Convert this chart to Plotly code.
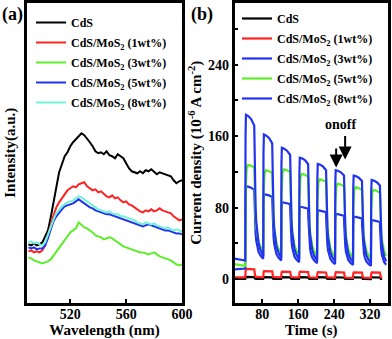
import plotly.graph_objects as go

# ---------------- Panel (a): PL spectra ----------------
wavelength = list(range(490, 601, 2))
pl_cds = [58, 57, 59, 57, 58, 60, 66, 72, 85, 100, 118, 130, 138, 146, 150, 156, 160, 163, 166, 169,
          167, 164, 160, 156, 151, 149, 150, 148, 151, 147, 146, 144, 148, 146, 144, 139, 134, 131, 130, 129,
          131, 129, 132, 131, 133, 130, 128, 130, 129, 128, 127, 126, 122, 119, 121, 122]
pl_1wt = [51, 52, 50, 51, 50, 52, 57, 66, 77, 87, 95, 100, 104, 109, 112, 114, 116, 115, 118, 119,
          120, 116, 114, 112, 113, 110, 111, 108, 106, 105, 107, 104, 105, 102, 100, 101, 98, 97, 95, 93,
          91, 90, 92, 91, 93, 91, 92, 94, 92, 91, 90, 89, 86, 84, 82, 83]
pl_3wt = [45, 44, 42, 41, 40, 39, 40, 41, 43, 47, 51, 55, 59, 62, 66, 70, 72, 74, 80, 77,
          75, 74, 72, 70, 67, 66, 65, 63, 64, 65, 64, 62, 60, 58, 56, 55, 54, 53, 52, 51,
          50, 50, 49, 48, 49, 50, 48, 46, 45, 44, 43, 42, 40, 38, 37, 38]
pl_5wt = [55, 54, 55, 53, 54, 54, 57, 64, 73, 81, 86, 90, 93, 96, 97, 98, 99, 101, 103, 101,
          99, 97, 95, 94, 92, 91, 90, 89, 88, 88, 87, 86, 85, 84, 83, 82, 81, 80, 79, 78,
          77, 76, 77, 78, 77, 76, 75, 74, 73, 72, 72, 71, 70, 69, 69, 68]
pl_8wt = [60, 61, 59, 60, 58, 57, 60, 68, 76, 83, 89, 93, 96, 98, 100, 101, 102, 104, 106, 105,
          103, 101, 99, 97, 95, 93, 92, 91, 90, 91, 89, 88, 88, 86, 86, 85, 84, 83, 82, 80,
          79, 78, 80, 79, 78, 79, 77, 76, 75, 74, 75, 73, 72, 73, 72, 71]

# ---------------- Panel (b): photocurrent ----------------
t_on = [42, 82, 122, 162, 202, 242, 282, 322]
ON_LEN = 20
T_START, T_END = 18, 360

cds_base = [0.5, 0.4]
cds_peak = [2.6, 2.4, 2.4, 2.3, 2.3, 2.2, 2.2, 2.2]
cds_end = [2.4, 2.2, 2.2, 2.1, 2.1, 2.0, 2.0, 2.0]
cds_trough = [0.4, 0.4, 0.3, 0.3, 0.3, 0.3, 0.2, 0.2]

w1_base = [2.2, 2.0]
w1_peak = [11.5, 9.2, 8.6, 8.4, 8.0, 8.0, 7.8, 7.8]
w1_end = [11.0, 8.8, 8.2, 8.0, 7.6, 7.6, 7.4, 7.4]
w1_trough = [2.2, 2.0, 2.0, 1.8, 1.8, 1.6, 1.6, 1.5]

w3_base = [11, 12]
w3_peak = [104, 95, 86, 81, 77, 73, 70, 66]
w3_end = [100, 92, 84, 79, 75, 71, 68, 64]
w3_trough = [23, 21, 19, 18, 17, 16, 15, 14]

w5_base = [17, 15]
w5_peak = [128, 122, 123, 118, 112, 107, 103, 100]
w5_end = [125, 119, 120, 115, 109, 104, 100, 97]
w5_trough = [31, 29, 27, 26, 25, 24, 23, 22]

w8_base = [23, 21]
w8_peak = [184, 162, 147, 136, 129, 122, 116, 111]
w8_end = [172, 152, 139, 129, 122, 116, 110, 105]
w8_trough = [26, 24, 22, 21, 20, 19, 18, 16]

# pulse shape read from first pulse (time offsets in s, fraction of step)
fast_rise_dt, fast_rise_fr = [0, 0.6, 1.5], [0, 0.85, 1.0]
fast_sag_dt, fast_sag_fr = [6, 13, 20], [0.1, 0.4, 1.0]
slow_rise_dt, slow_rise_fr = [0, 0.6, 1.5, 3, 6], [0, 0.7, 0.88, 0.96, 1.0]
slow_sag_dt, slow_sag_fr = [12, 20], [0.3, 1.0]
decay_dt = [0.5, 1, 2, 3, 4.5, 6.5, 9.5, 14, 19.5]
decay_fr_blue = [0.82, 0.7, 0.5, 0.37, 0.26, 0.17, 0.1, 0.045, 0.0]
decay_fr_green = [0.85, 0.74, 0.55, 0.42, 0.3, 0.2, 0.12, 0.055, 0.0]
sq_rise_dt, sq_rise_fr = [0, 0.8, 2], [0, 0.8, 1.0]
sq_sag_dt, sq_sag_fr = [20], [1.0]
sq_decay_dt, sq_decay_fr = [0.8, 2, 5, 19.5], [0.3, 0.12, 0.04, 0.0]


def pulse_series(base, peaks, ends, troughs, rdt, rfr, sdt, sfr, ddt, dfr):
    t, y = [T_START, t_on[0]], [base[0], base[1]]
    prev = base[1]
    for k, ton in enumerate(t_on):
        for dt, f in zip(rdt, rfr):
            t.append(ton + dt)
            y.append(prev + f * (peaks[k] - prev))
        for dt, f in zip(sdt, sfr):
            t.append(ton + dt)
            y.append(peaks[k] + f * (ends[k] - peaks[k]))
        toff = ton + ON_LEN
        for dt, f in zip(ddt, dfr):
            if toff + dt > T_END:
                break
            t.append(toff + dt)
            y.append(troughs[k] + f * (ends[k] - troughs[k]))
        prev = troughs[k]
    return t, y


FONT = "Liberation Serif"
BLACK, RED, GREEN, BLUE, CYAN = "#000000", "#ff2222", "#5cee2a", "#2233ee", "#72f2d8"
labels = ["CdS", "CdS/MoS<sub>2</sub> (1wt%)", "CdS/MoS<sub>2</sub> (3wt%)",
          "CdS/MoS<sub>2</sub> (5wt%)", "CdS/MoS<sub>2</sub> (8wt%)"]

fig = go.Figure()
for i, (vals, col) in enumerate(zip([pl_cds, pl_1wt, pl_3wt, pl_5wt, pl_8wt],
                                    [BLACK, RED, GREEN, BLUE, CYAN])):
    fig.add_trace(go.Scatter(x=wavelength, y=vals, mode="lines", name=labels[i],
                             line=dict(color=col, width=2), xaxis="x", yaxis="y",
                             legend="legend", legendgroup="a%d" % i))

series_b = [
    (cds_base, cds_peak, cds_end, cds_trough, sq_rise_dt, sq_rise_fr, sq_sag_dt, sq_sag_fr, sq_decay_dt, sq_decay_fr, BLACK),
    (w1_base, w1_peak, w1_end, w1_trough, sq_rise_dt, sq_rise_fr, sq_sag_dt, sq_sag_fr, sq_decay_dt, sq_decay_fr, RED),
    (w3_base, w3_peak, w3_end, w3_trough, fast_rise_dt, fast_rise_fr, fast_sag_dt, fast_sag_fr, decay_dt, decay_fr_blue, BLUE),
    (w5_base, w5_peak, w5_end, w5_trough, slow_rise_dt, slow_rise_fr, slow_sag_dt, slow_sag_fr, decay_dt, decay_fr_green, GREEN),
    (w8_base, w8_peak, w8_end, w8_trough, fast_rise_dt, fast_rise_fr, fast_sag_dt, fast_sag_fr, decay_dt, decay_fr_blue, BLUE),
]
for i, s in enumerate(series_b):
    tt, yy = pulse_series(*s[:10])
    fig.add_trace(go.Scatter(x=tt, y=yy, mode="lines", name=labels[i],
                             line=dict(color=s[10], width=2.2), xaxis="x2", yaxis="y2",
                             legend="legend2", legendgroup="b%d" % i))

W, H = 392, 339
ydom = [1 - 302.5 / H, 1 - 3 / H]
axis_common = dict(showline=True, linewidth=2.5, linecolor="black", mirror=True,
                   ticklen=4, tickwidth=2, tickcolor="black",
                   showgrid=False, zeroline=False,
                   tickfont=dict(family=FONT, size=14, color="black", weight="bold"))
title_font = dict(family=FONT, size=15, color="black", weight="bold")

fig.update_layout(
    width=W, height=H, margin=dict(l=0, r=0, t=0, b=0),
    paper_bgcolor="white", plot_bgcolor="white",
    font=dict(family=FONT, color="black", weight="bold"),
    xaxis=dict(domain=[27 / W, 182 / W], range=[489, 600], tickvals=[520, 560, 600], ticks="inside",
               ticklabelstandoff=-3,
               title=dict(text="Wavelength (nm)", font=title_font, standoff=5), automargin=False, **axis_common),
    yaxis=dict(domain=ydom, range=[0, 299], showticklabels=False, ticks="",
               title=dict(text="Intensity(a.u.)", font=title_font, standoff=6), automargin=False,
               **axis_common),
    xaxis2=dict(domain=[234.5 / W, 388 / W], range=[18, 360], tickvals=[80, 160, 240, 320],
                anchor="y2", ticks="inside", ticklabelstandoff=-3,
                title=dict(text="Time (s)", font=title_font, standoff=5), automargin=False, **axis_common),
    yaxis2=dict(domain=ydom, range=[-26, 309], anchor="x2", ticks="inside",
                tickvals=[0, 80, 160, 240],
                minor=dict(tickvals=[40, 120, 200, 280], ticks="inside", ticklen=4, tickwidth=2,
                           tickcolor="black", showgrid=False),
                title=dict(text="Current density (10<sup>-6</sup> A cm<sup>-2</sup>)", font=title_font, standoff=3),
                automargin=False, **axis_common),
    legend=dict(x=31 / W, y=1 - 8 / H, xanchor="left", yanchor="top", bgcolor="rgba(0,0,0,0)",
                font=dict(family=FONT, size=12, color="black", weight="bold"),
                tracegroupgap=1, itemwidth=30),
    legend2=dict(x=237 / W, y=1 - 4 / H, xanchor="left", yanchor="top", bgcolor="rgba(0,0,0,0)",
                 font=dict(family=FONT, size=12, color="black", weight="bold"),
                 tracegroupgap=1, itemwidth=30),
    showlegend=True,
)

fig.add_annotation(x=0, y=1 - 15 / H, xref="paper", yref="paper", text="(a)", showarrow=False,
                   xanchor="left", yanchor="middle", font=dict(family=FONT, size=18, color="black", weight="bold"))
fig.add_annotation(x=189 / W, y=1 - 15 / H, xref="paper", yref="paper", text="(b)", showarrow=False,
                   xanchor="left", yanchor="middle", font=dict(family=FONT, size=18, color="black", weight="bold"))
fig.add_annotation(x=255, y=173, xref="x2", yref="y2", text="onoff", showarrow=False,
                   font=dict(family=FONT, size=14, color="black", weight="bold"))
fig.add_annotation(x=244.5, y=125, ax=244.5, ay=148, xref="x2", yref="y2", axref="x2", ayref="y2",
                   text="", showarrow=True, arrowhead=2, arrowsize=1.3, arrowwidth=2, arrowcolor="black")
fig.add_annotation(x=264.5, y=134, ax=264.5, ay=162, xref="x2", yref="y2", axref="x2", ayref="y2",
                   text="", showarrow=True, arrowhead=2, arrowsize=1.3, arrowwidth=2, arrowcolor="black")

fig.write_html("out.html", config={"displayModeBar": False},
               post_script="document.body.style.margin='0';")
